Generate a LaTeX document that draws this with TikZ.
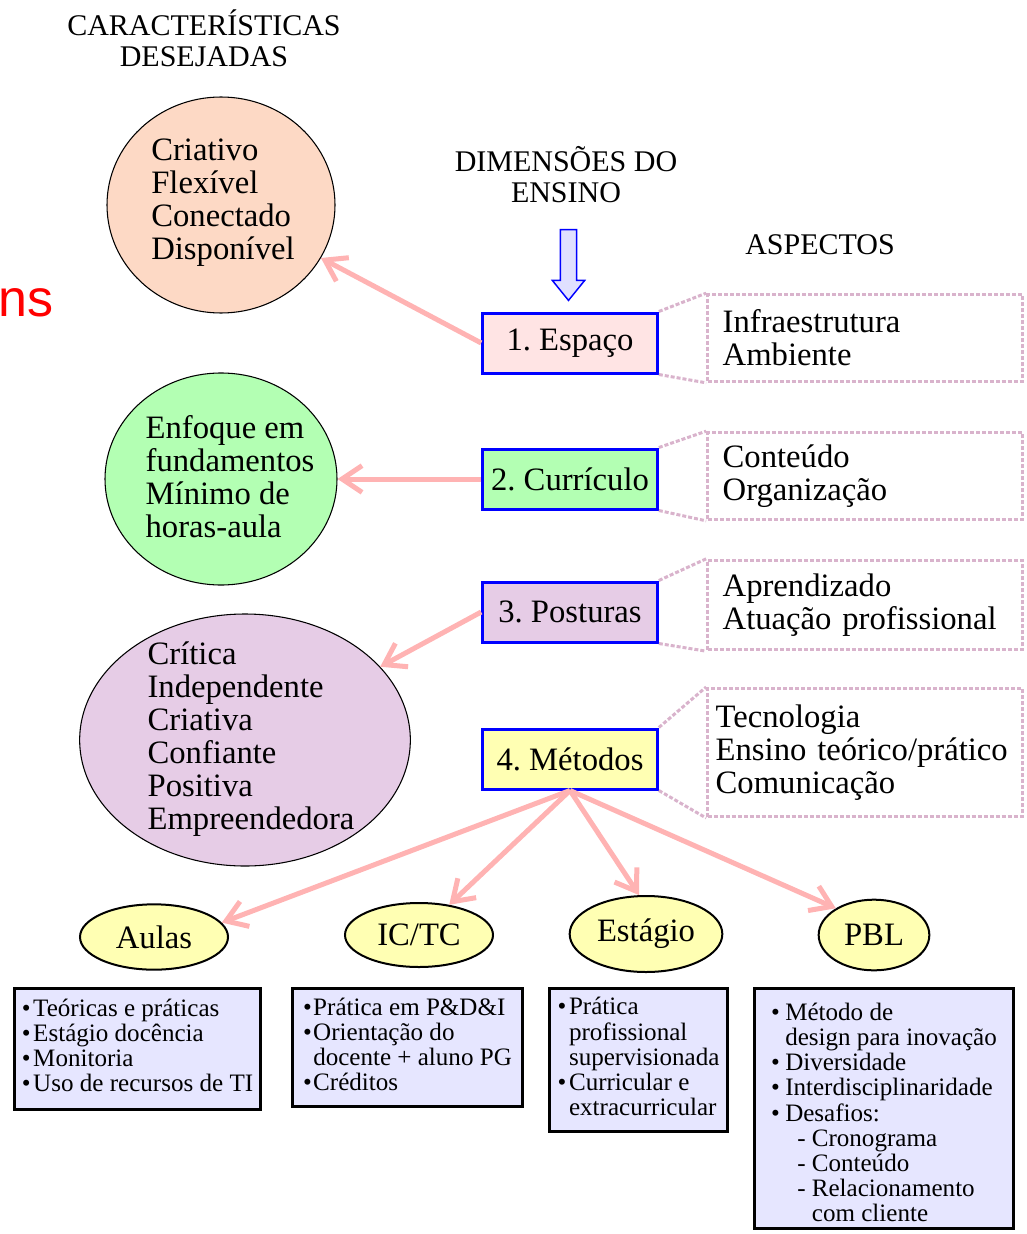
\documentclass[tikz,border=0pt]{standalone}
\usepackage{fontspec}
\setmainfont{Liberation Serif}
\newfontfamily\arialfont{Liberation Sans}
\usepackage{tikz}
\usetikzlibrary{arrows.meta, positioning, shapes.geometric, shapes.arrows}
\definecolor{dimblue}{HTML}{0000FF}
\definecolor{arrpink}{HTML}{FFB3B3}
\definecolor{dotpink}{HTML}{D9B3CC}
\definecolor{peachbg}{HTML}{FDD9C5}
\definecolor{rosebg}{HTML}{FFE4E4}
\definecolor{greenbg}{HTML}{B3FFB3}
\definecolor{lilacbg}{HTML}{E6CCE6}
\definecolor{yellowbg}{HTML}{FFFFB3}
\definecolor{lavbg}{HTML}{E6E6FF}
\definecolor{downbg}{HTML}{E0E0FF}
\newcommand{\fbig}{\fontsize{24.5}{24.75}\selectfont}
\newcommand{\fhead}{\fontsize{22.5}{23.25}\selectfont}
\newcommand{\flist}{\fontsize{18.8}{18.75}\selectfont}
\frenchspacing
\tikzset{
  dimbox/.style={draw=dimblue, line width=2.25pt, minimum width=131pt,
                 minimum height=45pt, font=\fbig, inner sep=2pt},
  charell/.style={ellipse, draw=black, line width=0.8pt, inner sep=0pt},
  chartxt/.style={align=left, font=\fbig, inner sep=0pt},
  aspbox/.style={draw=dotpink, line width=2.25pt, dash pattern=on 3pt off 1.5pt,
                 minimum width=236pt, text width=213.5pt, inner xsep=11.25pt,
                 align=left, font=\fbig},
  aspline/.style={draw=dotpink, line width=2.25pt, dash pattern=on 3pt off 1.5pt},
  methell/.style={ellipse, draw=black, line width=1.5pt, fill=yellowbg,
                  inner sep=0pt, font=\fbig},
  listbox/.style={draw=black, line width=2.25pt, fill=lavbg, align=left,
                  font=\flist, inner sep=0pt},
  pinkarr/.style={-{Straight Barb[length=15pt, width=20pt]}, line width=3.75pt,
                  draw=arrpink},
  headtxt/.style={align=center, font=\fhead, inner sep=0pt},
}

\begin{document}
\begin{tikzpicture}[x=0.75pt, y=-0.75pt]
  \useasboundingbox (0,0) rectangle (1026,1234);

  %% ── Headings ─────────────────────────────────────────────────────────────

  \node[headtxt] (hchar) at (204,38) {CARACTERÍSTICAS\\DESEJADAS};
  \node[headtxt] (hdim)  at (566,175) {DIMENSÕES DO\\ENSINO};
  \node[headtxt] (hasp)  at (820,245) {ASPECTOS};

  \node[font=\arialfont\fontsize{39}{39}\selectfont, text=red, inner sep=0pt,
        anchor=base west] (cut) at (-2,316) {ns};

  \node[single arrow, draw=dimblue, fill=downbg, line width=1.1pt,
        shape border rotate=270, inner sep=5.6pt, minimum height=53pt,
        single arrow head extend=6pt, single arrow tip angle=78]
    (down) at (568.5,260) {};

  %% ── Dimensions (centre column) ───────────────────────────────────────────

  \node[dimbox, fill=rosebg]   (m1) at (570,343) {1. Espaço};
  \node[dimbox, fill=greenbg]  (m2) at (570,479) {2. Currículo};
  \node[dimbox, fill=lilacbg]  (m3) at (570,612) {3. Posturas};
  \node[dimbox, fill=yellowbg] (m4) at (570,759) {4. Métodos};

  %% ── Desired characteristics (left) ───────────────────────────────────────

  \node[charell, fill=peachbg, minimum width=171pt, minimum height=162pt]
    (c1) at (221,205) {};
  \node[chartxt] (c1t) at (223,203)
    {Criativo\\Flexível\\Conectado\\Disponível};

  \node[charell, fill=greenbg, minimum width=174pt, minimum height=159pt]
    (c2) at (221,479) {};
  \node[chartxt] (c2t) at (230,477)
    {Enfoque em\\fundamentos\\Mínimo de\\horas-aula};

  \node[charell, fill=lilacbg, minimum width=248pt, minimum height=189pt]
    (c3) at (245,740) {};
  \node[chartxt] (c3t) at (251,739)
    {Crítica\\Independente\\Criativa\\Confiante\\Positiva\\Empreendedora};

  \draw[pinkarr] (m1.west) -- (c1);
  \draw[pinkarr] (m2.west) -- (c2);
  \draw[pinkarr] (m3.west) -- (c3);

  %% ── Aspects (right) ──────────────────────────────────────────────────────

  \node[aspbox, minimum height=65pt] (a1) at (865,338)
    {Infraestrutura\\Ambiente};
  \node[aspbox, minimum height=65pt] (a2) at (865,476)
    {Conteúdo\\Organização};
  \node[aspbox, minimum height=67pt] (a3) at (865,605)
    {Aprendizado\\Atuação profissional};
  \node[aspbox, minimum height=96pt, inner xsep=6pt, text width=224pt] (a4) at (865,752.5)
    {Tecnologia\\Ensino teórico/prático\\Comunicação};

  \foreach \i in {1,...,4} {
    \draw[aspline] (m\i.north east) -- (a\i.north west);
    \draw[aspline] (m\i.south east) -- (a\i.south west);
  }

  %% ── Methods (bottom) ─────────────────────────────────────────────────────

  \node[methell, minimum width=111pt, minimum height=49pt]   (e1) at (154,937) {Aulas};
  \node[methell, minimum width=111pt, minimum height=48pt]   (e2) at (419,935) {IC/TC};
  \node[methell, minimum width=114.5pt, minimum height=57pt] (e3) at (646,934) {Estágio};
  \node[methell, minimum width=83pt, minimum height=53pt]    (e4) at (874,935) {PBL};

  \draw[pinkarr] (m4.south) -- (e1.12);
  \draw[pinkarr] (m4.south) -- (e2.45);
  \draw[pinkarr] (m4.south) -- (e3.100);
  \draw[pinkarr] (m4.south) -- (e4.145);

  \node[listbox, minimum width=184.5pt, minimum height=91pt] (l1) at (137.5,1049)
    {\begin{tabular}{@{}l@{\hspace{2pt}}l@{}}
       \textbullet & Teóricas e práticas\\
       \textbullet & Estágio docência\\
       \textbullet & Monitoria\\
       \textbullet & Uso de recursos de TI
     \end{tabular}};

  \node[listbox, minimum width=172.5pt, minimum height=88.5pt] (l2) at (407.5,1047.5)
    {\begin{tabular}{@{}l@{\hspace{1pt}}l@{}}
       \textbullet & Prática em P\&D\&I\\
       \textbullet & Orientação do\\
                   & docente + aluno PG\\
       \textbullet & Créditos
     \end{tabular}};

  \node[listbox, minimum width=133.5pt, minimum height=107pt] (l3) at (638.5,1060)
    {\begin{tabular}{@{}l@{\hspace{2pt}}l@{}}
       \textbullet & Prática\\
                   & profissional\\
                   & supervisionada\\
       \textbullet & Curricular e\\
                   & extracurricular
     \end{tabular}};

  \node[listbox, minimum width=194pt, minimum height=180pt] (l4) at (884,1108.5)
    {\raisebox{-5.6pt}[\height][\depth]{\begin{tabular}{@{}l@{\hspace{4pt}}l@{}}
       \textbullet & Método de\\
                   & design para inovação\\
       \textbullet & Diversidade\\
       \textbullet & Interdisciplinaridade\\
       \textbullet & Desafios:\\
                   & \hspace*{9pt}- Cronograma\\
                   & \hspace*{9pt}- Conteúdo\\
                   & \hspace*{9pt}- Relacionamento\\
                   & \hspace*{9pt}\phantom{- }com cliente
     \end{tabular}}};

\end{tikzpicture}
\end{document}
